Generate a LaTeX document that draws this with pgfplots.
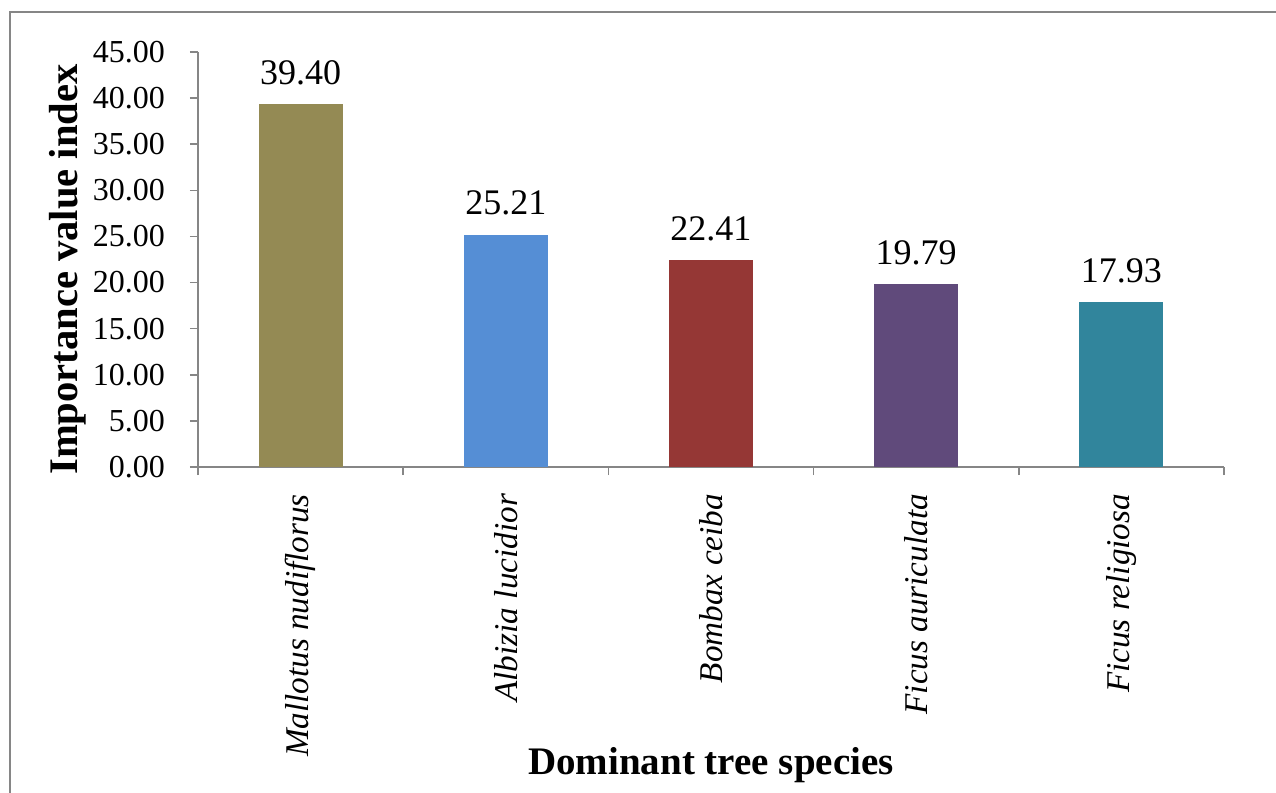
\documentclass[border=0pt]{standalone}
\usepackage{pgfplots}
\pgfplotsset{compat=1.18}
\usepackage{fontspec}
\setmainfont{Liberation Serif}
\definecolor{cOlive}{HTML}{948A54}
\definecolor{cBlue}{HTML}{558ED5}
\definecolor{cRed}{HTML}{953735}
\definecolor{cPurple}{HTML}{604A7B}
\definecolor{cTeal}{HTML}{31859C}
\definecolor{axgray}{HTML}{868686}
\begin{document}
\begin{tikzpicture}
\useasboundingbox (-99pt,-163pt) rectangle (539pt,233.5pt);
\draw[axgray, line width=1pt] (-94pt,-165pt) -- (-94pt,227.5pt) -- (541pt,227.5pt);
\begin{axis}[
  at={(0,0)}, anchor=south west,
  scale only axis, width=513pt, height=207.5pt,
  xmin=-0.5, xmax=4.5, ymin=0, ymax=45,
  axis lines*=left,
  axis line style={axgray, line width=0.8pt},
  every tick/.style={axgray, line width=0.8pt},
  tick align=outside,
  major tick length=4pt,
  minor tick length=4pt,
  ytick={0,5,...,45},
  xtick={0,1,2,3,4},
  xticklabels={Mallotus nudiflorus, Albizia lucidior, Bombax ceiba, Ficus auriculata, Ficus religiosa},
  minor xtick={-0.5,0.5,1.5,2.5,3.5,4.5},
  major x tick style={draw=none},
  /pgf/number format/assume math mode=true,
  yticklabel={\pgfmathprintnumber[fixed,fixed zerofill,precision=2]{\tick}},
  yticklabel style={font=\fontsize{16}{18}\selectfont, xshift=-9pt},
  xticklabel style={font=\fontsize{16.6}{19}\selectfont\itshape, rotate=90, anchor=east, xshift=-6pt},
  ylabel={\textbf{Importance value index}},
  xlabel={\textbf{Dominant tree species}},
  y label style={at={(axis description cs:-0.1267,0.476)}, anchor=center, font=\fontsize{20.3}{22}\selectfont},
  x label style={at={(axis description cs:0.5,-0.718)}, anchor=center, font=\fontsize{19.5}{22}\selectfont},
  nodes near coords={\pgfmathprintnumber[fixed,fixed zerofill,precision=2]{\pgfplotspointmeta}},
  every node near coord/.append style={font=\fontsize{18}{20}\selectfont, black, yshift=6pt},
  ybar, bar width=42pt, bar shift=0pt,
]
\addplot[fill=cOlive, draw=none] coordinates {(0,39.40)};
\addplot[fill=cBlue, draw=none] coordinates {(1,25.21)};
\addplot[fill=cRed, draw=none] coordinates {(2,22.41)};
\addplot[fill=cPurple, draw=none] coordinates {(3,19.79)};
\addplot[fill=cTeal, draw=none] coordinates {(4,17.93)};
\end{axis}
\end{tikzpicture}
\end{document}
